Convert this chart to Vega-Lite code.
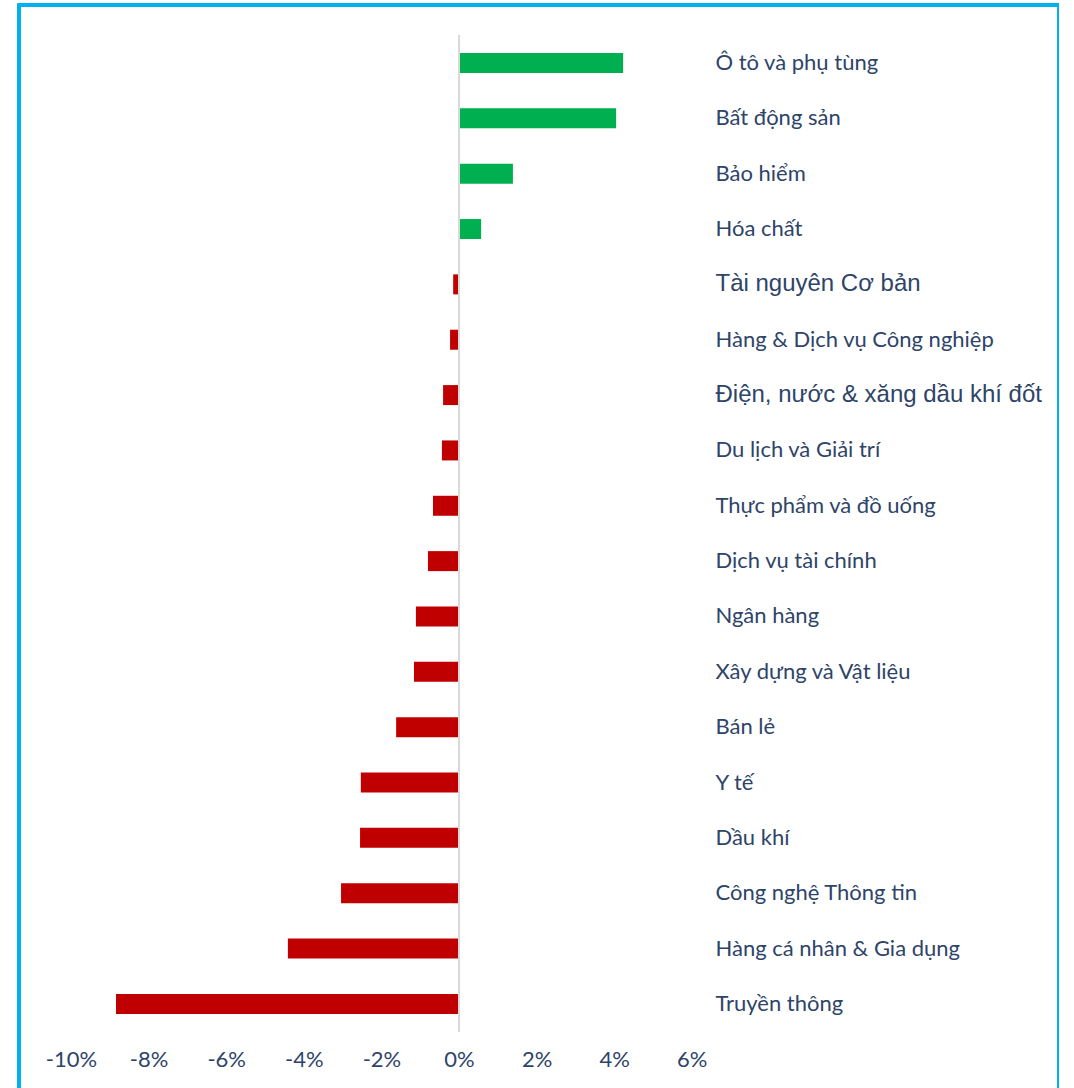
{
  "$schema": "https://vega.github.io/schema/vega-lite/v6.json",
  "width": 1040,
  "height": 1071.6,
  "autosize": {"type": "none"},
  "padding": {"left": 19, "top": 5, "right": 0, "bottom": 30},
  "background": "white",
  "config": {"view": {"stroke": null}},
  "data": {
    "values": [
      {"sector": "Ô tô và phụ tùng", "value": 0.0423},
      {"sector": "Bất động sản", "value": 0.0405},
      {"sector": "Bảo hiểm", "value": 0.0139},
      {"sector": "Hóa chất", "value": 0.0057},
      {"sector": "Tài nguyên Cơ bản", "value": -0.0015},
      {"sector": "Hàng & Dịch vụ Công nghiệp", "value": -0.0023},
      {"sector": "Điện, nước & xăng dầu khí đốt", "value": -0.0041},
      {"sector": "Du lịch và Giải trí", "value": -0.0044},
      {"sector": "Thực phẩm và đồ uống", "value": -0.0067},
      {"sector": "Dịch vụ tài chính", "value": -0.0080},
      {"sector": "Ngân hàng", "value": -0.0111},
      {"sector": "Xây dựng và Vật liệu", "value": -0.0116},
      {"sector": "Bán lẻ", "value": -0.0162},
      {"sector": "Y tế", "value": -0.0253},
      {"sector": "Dầu khí", "value": -0.0255},
      {"sector": "Công nghệ Thông tin", "value": -0.0304},
      {"sector": "Hàng cá nhân & Gia dụng", "value": -0.0441},
      {"sector": "Truyền thông", "value": -0.0884}
    ]
  },
  "layer": [
    {
      "encoding": {
        "y": {
          "field": "sector",
          "type": "nominal",
          "sort": null,
          "title": null,
          "scale": {"paddingInner": 0.6387, "paddingOuter": 1, "align": 0.4336},
          "axis": {
            "orient": "right",
            "ticks": false,
            "domain": false,
            "grid": false,
            "labelPadding": -344,
            "labelAlign": "left",
            "labelBaseline": "middle",
            "labelLimit": 500,
            "labelColor": "#2E4468",
            "labelFont": {"condition": {"test": "datum.value === 'Tài nguyên Cơ bản' || datum.value === 'Điện, nước & xăng dầu khí đốt'", "value": "Liberation Sans"}, "value": "Lato"},
            "labelFontSize": {"condition": {"test": "datum.value === 'Tài nguyên Cơ bản' || datum.value === 'Điện, nước & xăng dầu khí đốt'", "value": 24}, "value": 22}
          }
        }
      },
      "layer": [
        {
          "mark": {"type": "bar"},
          "encoding": {
            "x": {
              "field": "value",
              "type": "quantitative",
              "title": null,
              "scale": {"domain": [-0.1134, 0.15464], "nice": false, "zero": false},
              "axis": {
                "values": [-0.1, -0.08, -0.06, -0.04, -0.02, 0, 0.02, 0.04, 0.06],
                "labelExpr": "round(datum.value * 100) + '%'",
                "ticks": false,
                "tickSize": 0,
                "domain": false,
                "grid": false,
                "labelPadding": -16.6,
                "labelBaseline": "middle",
                "labelFlush": false,
                "labelFont": "Lato",
                "labelFontSize": 22,
                "labelColor": "#2E4468"
              }
            },
            "color": {"condition": {"test": "datum.value > 0", "value": "#00B050"}, "value": "#C00000"}
          }
        },
        {
          "mark": {"type": "tick", "color": "#D9D9D9", "thickness": 2, "size": 56, "opacity": 1},
          "encoding": {
            "x": {"datum": 0, "type": "quantitative", "title": null}
          }
        }
      ]
    },
    {
      "mark": {"type": "rect", "filled": false, "color": "#00B0F0", "strokeWidth": 2.5, "clip": false},
      "encoding": {
        "x": {"datum": -0.1134, "type": "quantitative", "title": null},
        "x2": {"datum": 0.15464},
        "y": {"datum": 1, "type": "quantitative", "title": null, "scale": {"domain": [0, 1], "nice": false, "zero": false}, "axis": null},
        "y2": {"datum": -0.1}
      }
    }
  ],
  "resolve": {"scale": {"y": "independent"}, "axis": {"y": "independent"}}
}
